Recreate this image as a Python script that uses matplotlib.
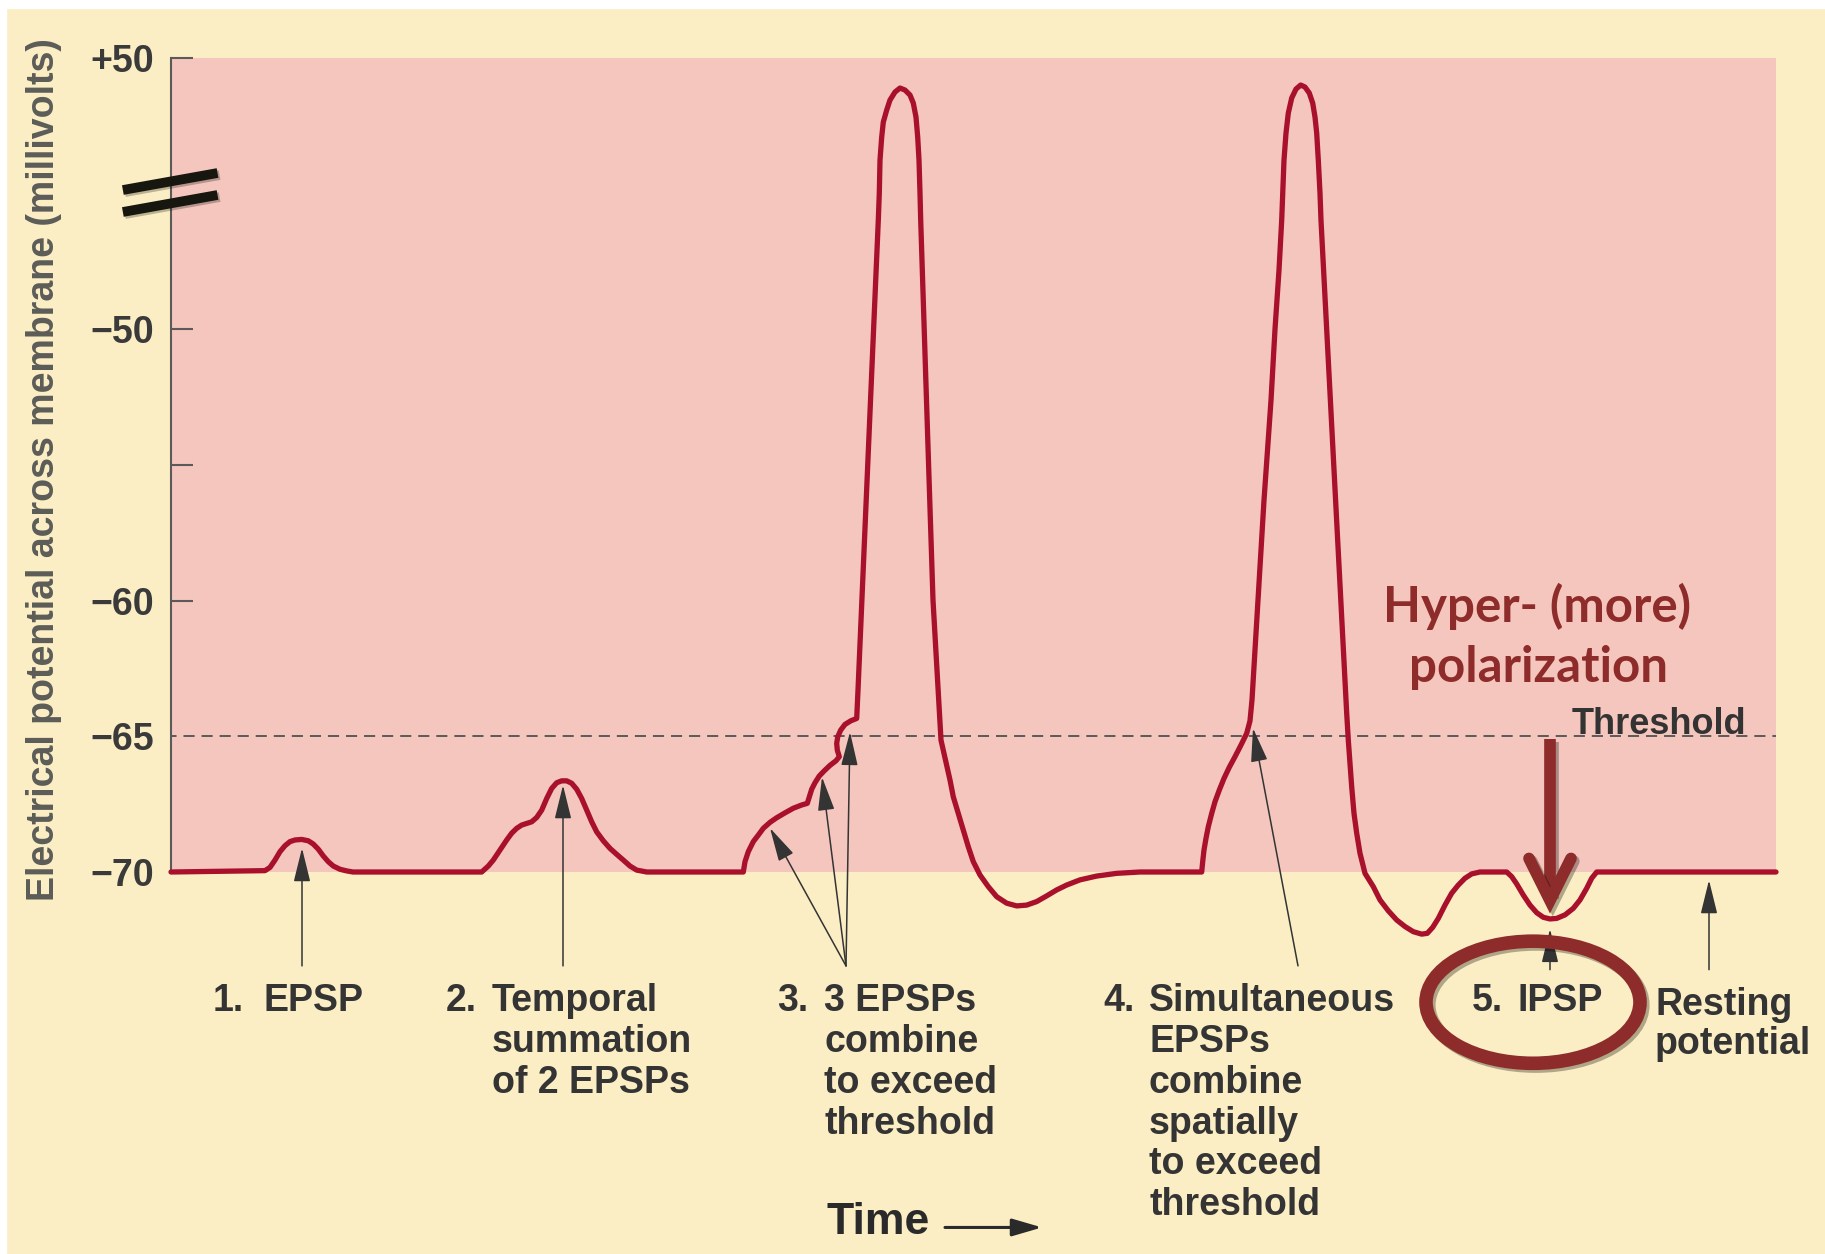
#!/usr/bin/env python3
# Summation of postsynaptic potentials (EPSP / IPSP) - textbook style diagram.
# Values; y axis is broken above -50 mV.

import numpy as np
import matplotlib
matplotlib.use("Agg")
import matplotlib.pyplot as plt
import matplotlib.patheffects as pe
from matplotlib.patches import Ellipse, Rectangle

plt.rcParams['font.family'] = ['Liberation Sans', 'DejaVu Sans']
plt.rcParams['font.weight'] = 'bold'
plt.rcParams['lines.scale_dashes'] = False

# membrane trace, (time in arbitrary units, potential in mV), one list per event
epsp_single = [(0, -70), (9.4, -69.95), (9.9, -69.83), (10.4, -69.56), (10.9, -69.25),
               (11.4, -69.03), (11.9, -68.88), (12.4, -68.82), (13.07, -68.80),
               (13.73, -68.85), (14.23, -68.97), (14.73, -69.16), (15.23, -69.41),
               (15.73, -69.62), (16.23, -69.78), (16.9, -69.90), (17.57, -69.96),
               (18.2, -70)]
epsp_temporal = [(31.07, -70), (31.73, -69.78), (32.23, -69.56), (32.9, -69.19),
                 (33.57, -68.82), (34.07, -68.57), (34.57, -68.39), (35.07, -68.27),
                 (35.57, -68.21), (36.07, -68.15), (36.57, -67.99), (37.07, -67.72),
                 (37.57, -67.29), (38.07, -66.92), (38.57, -66.71), (39.07, -66.64),
                 (39.57, -66.64), (40.07, -66.73), (40.57, -66.95), (41.07, -67.29),
                 (41.57, -67.72), (42.07, -68.15), (42.57, -68.52), (43.23, -68.85),
                 (43.9, -69.13), (44.57, -69.35), (45.23, -69.56), (45.9, -69.78),
                 (46.57, -69.93), (47.57, -70)]
three_epsps = [(57.23, -70), (57.4, -69.62), (57.73, -69.25), (58.23, -68.88),
               (58.73, -68.64), (59.23, -68.39), (59.9, -68.17), (60.57, -68.0),
               (61.4, -67.82), (62.23, -67.65), (63.07, -67.53), (63.63, -67.47),
               (63.83, -67.23), (64.07, -66.95), (64.4, -66.71), (64.83, -66.46),
               (65.33, -66.27), (65.9, -66.07), (66.5, -65.90), (66.83, -65.75),
               (66.63, -65.51), (66.57, -65.26), (66.67, -65.02), (66.97, -64.77),
               (67.4, -64.56), (67.97, -64.43), (68.57, -64.34)]
spike_one = [(68.7, -63.30), (69.09, -59.98), (69.52, -56.30), (69.95, -52.62),
             (70.26, -50.0), (70.51, -28.2), (70.73, -9.8), (70.83, 0.18),
             (70.9, 12.36), (71.07, 20.85), (71.23, 26.38), (71.57, 30.81),
             (71.9, 34.50), (72.4, 37.45), (72.9, 38.93), (73.4, 38.19),
             (73.9, 36.35), (74.23, 33.39), (74.5, 28.23), (74.67, 20.85),
             (74.8, 12.36), (74.9, 0.18), (74.97, -9.8), (75.13, -28.2),
             (75.32, -50.0), (75.55, -52.62), (75.88, -56.30), (76.2, -59.98),
             (77.0, -65.14), (77.9, -66.61), (78.23, -67.23), (78.73, -67.84),
             (79.23, -68.45), (79.73, -69.07), (80.23, -69.62), (80.9, -70.11),
             (81.73, -70.54), (82.57, -70.91), (83.57, -71.15), (84.57, -71.25),
             (85.57, -71.22), (86.57, -71.09), (87.57, -70.88), (88.57, -70.66),
             (89.57, -70.48), (90.9, -70.29), (92.57, -70.15), (94.57, -70.05),
             (96.9, -70), (103.07, -70)]
spike_spatial = [(103.17, -69.62), (103.3, -69.19), (103.5, -68.76), (103.73, -68.33),
                 (104.07, -67.84), (104.4, -67.41), (104.83, -66.98), (105.3, -66.55),
                 (105.83, -66.14), (106.4, -65.75), (107.0, -65.32), (107.57, -64.89),
                 (107.9, -64.43), (108.1, -63.66), (108.7, -59.98), (109.3, -56.30),
                 (110.0, -52.62), (110.4, -50.0), (110.8, -28.2), (111.07, -9.8),
                 (111.17, 0.18), (111.3, 12.36), (111.5, 22.32), (111.73, 29.70),
                 (112.07, 35.24), (112.5, 38.56), (112.97, 40.04), (113.4, 39.30),
                 (113.83, 37.08), (114.17, 33.39), (114.4, 28.23), (114.57, 22.32),
                 (114.73, 12.36), (114.9, 0.18), (115.0, -9.8), (115.26, -28.2),
                 (115.57, -50.0), (115.94, -52.62), (116.46, -56.30), (116.98, -59.98),
                 (117.4, -62.93), (117.57, -64.15), (117.73, -65.14), (117.9, -66.0),
                 (118.07, -66.86), (118.3, -67.84), (118.57, -68.57), (118.9, -69.31),
                 (119.4, -70.05), (120.23, -70.54), (120.9, -71.03), (121.73, -71.43),
                 (122.57, -71.77), (123.4, -72.01), (124.23, -72.20), (125.07, -72.29),
                 (125.63, -72.26), (126.17, -72.04), (126.73, -71.71), (127.4, -71.22),
                 (128.07, -70.78), (128.73, -70.48), (129.4, -70.23), (130.07, -70.07),
                 (130.9, -70.0)]
ipsp = [(133.57, -70), (134.07, -70.17), (134.57, -70.44), (135.23, -70.85),
        (135.9, -71.22), (136.57, -71.50), (137.23, -71.67), (137.9, -71.73),
        (138.57, -71.71), (139.4, -71.58), (140.23, -71.34), (140.9, -71.03),
        (141.57, -70.60), (142.07, -70.23), (142.57, -70.0), (160.5, -70)]

threshold_mv = -65
ytick_mv = [50, -50, -55, -60, -65, -70]
ytick_labels = ['+50', '\u221250', '', '\u221260', '\u221265', '\u221270']

# pointer arrows below the trace: tail (t, mV) -> tip (t, mV)
arrow_tails = [(13.1, -73.46), (39.2, -73.46), (67.5, -73.46), (67.5, -73.46),
               (67.5, -73.46), (112.7, -73.46), (137.9, -73.6), (153.8, -73.6)]
arrow_tips = [(13.1, -69.12), (39.2, -66.80), (59.9, -68.38), (65.1, -66.50),
              (67.9, -64.84), (108.2, -64.70), (137.9, -72.1), (153.8, -70.3)]

# captions: number, start of number, start of text, lines
captions = [('1.', 4.2, 9.2, ['EPSP']),
            ('2.', 27.5, 32.1, ['Temporal', 'summation', 'of 2 EPSPs']),
            ('3.', 60.6, 65.3, ['3 EPSPs', 'combine', 'to exceed', 'threshold']),
            ('4.', 93.2, 97.8, ['Simultaneous', 'EPSPs', 'combine', 'spatially',
                                'to exceed', 'threshold']),
            ('5.', 130.1, 134.6, ['IPSP'])]
resting_lines = ['Resting', 'potential']

cream = '#FBEEC4'
pink = '#F4C6BD'
trace_col = '#A8102B'
ink = '#343434'
red_note = '#8E2C2C'


def fwd(v):
    v = np.asarray(v, dtype=float)
    return np.where(v <= -50, v, -50 + (v + 50) * 0.1)


def inv(y):
    y = np.asarray(y, dtype=float)
    return np.where(y <= -50, y, -50 + (y + 50) * 10)


W, H = 1825, 1254
fig = plt.figure(figsize=(W / 100, H / 100), dpi=100, facecolor=cream)
ax = fig.add_axes([171 / W, 1 - 872 / H, (1776 - 171) / W, (872 - 58) / H])
ax.set_facecolor(pink)
ax.set_yscale('function', functions=(fwd, inv))
ax.set_xlim(0, 160.5)
ax.set_ylim(-70, 50)

for s in ['top', 'right', 'bottom']:
    ax.spines[s].set_visible(False)
ax.spines['left'].set_color('#5a5a5a')
ax.spines['left'].set_linewidth(1.5)
ax.set_xticks([])
ax.set_yticks(ytick_mv)
ax.set_yticklabels(ytick_labels)
ax.yaxis.set_minor_locator(matplotlib.ticker.NullLocator())
ax.tick_params(axis='y', direction='in', length=16, width=1.5, color='#5a5a5a',
               pad=12, labelsize=27, labelcolor='#3a3a3a')
ax.yaxis.get_major_ticks()[4].tick1line.set_visible(False)

ax.set_ylabel('Electrical potential across membrane (millivolts)', fontsize=27,
              fontweight='bold', color='#5c5c58', va='center')
ax.yaxis.set_label_coords(-0.079, 0.495)

# threshold
ax.plot([0, 160.5], [threshold_mv, threshold_mv], color='#5a5a5a', lw=1.4,
        linestyle=(4, (8, 5)), zorder=2)
ax.text(140.1, -64.9, 'Threshold', fontsize=26, color='#333333',
        ha='left', va='baseline')

# membrane potential trace
segments = [epsp_single, epsp_temporal, three_epsps, spike_one, spike_spatial, ipsp]
trace = [p for seg in segments for p in seg]
ax.plot([p[0] for p in trace], [p[1] for p in trace], color=trace_col, lw=3.8,
        clip_on=False, solid_joinstyle='round', solid_capstyle='round', zorder=3)

# pointer arrows
for tail, tip in zip(arrow_tails, arrow_tips):
    ax.annotate('', xy=tip, xytext=tail, annotation_clip=False,
                arrowprops=dict(arrowstyle='-|>,head_length=1.5,head_width=0.37',
                                mutation_scale=14, color=ink, lw=1.1,
                                shrinkA=0, shrinkB=0), zorder=4)

# captions
step = 1.5
for num, x_num, x_txt, lines in captions:
    ax.text(x_num, -74.77, num, fontsize=27, color=ink, ha='left', va='center')
    for i, line in enumerate(lines):
        ax.text(x_txt, -74.77 - i * step, line, fontsize=27, color=ink,
                ha='left', va='center')
for i, line in enumerate(resting_lines):
    ax.text(148.4, -74.9 - i * 1.45, line, fontsize=27, color=ink,
            ha='left', va='center')

# time axis note
ax.text(65.5, -82.9, 'Time', fontsize=32, color='#2a2a2a', ha='left', va='center')
ax.annotate('', xy=(87.1, -83.1), xytext=(77.4, -83.1), annotation_clip=False,
            arrowprops=dict(arrowstyle='-|>,head_length=1.3,head_width=0.38',
                            mutation_scale=14, color='#2a2a2a', lw=2.2,
                            shrinkA=0, shrinkB=0))

# broken-axis marks
for y0, y1 in [(0.8378, 0.8587), (0.8108, 0.8317)]:
    ax.plot([-0.030, 0.029], [y0, y1], transform=ax.transAxes, color='#17170f',
            lw=7, solid_capstyle='butt', clip_on=False, zorder=6,
            path_effects=[pe.SimpleLineShadow(offset=(1.5, -1.5), alpha=0.25),
                          pe.Normal()])

# overlay: hyperpolarization note
shadow = [pe.SimpleLineShadow(offset=(2, -2), alpha=0.3), pe.Normal()]
ax.text(136.6, -60.79, 'Hyper- (more)', family=['Lato', 'DejaVu Sans'],
        fontsize=35.5, color=red_note, ha='center', va='baseline')
ax.text(136.7, -63.0, 'polarization', family=['Lato', 'DejaVu Sans'],
        fontsize=35.5, color=red_note, ha='center', va='baseline')
ax.plot([137.9, 137.9], [-65.1, -70.9], color=red_note, lw=8.4,
        solid_capstyle='butt', clip_on=False, zorder=6, path_effects=shadow)
ax.plot([135.8, 137.9, 140.0], [-69.5, -71.05, -69.5], color=red_note, lw=8.4,
        solid_capstyle='round', solid_joinstyle='miter', clip_on=False,
        zorder=6, path_effects=shadow)
ring = Ellipse((136.2, -74.8), 21.4, 4.5, fill=False, edgecolor=red_note,
               lw=9.8, clip_on=False, zorder=5, path_effects=shadow)
ax.add_patch(ring)

# white scan border
fig.add_artist(Rectangle((0, 1 - 8 / H), 1, 8 / H, transform=fig.transFigure,
                         color='white', zorder=10))
fig.add_artist(Rectangle((0, 0), 6 / W, 1, transform=fig.transFigure,
                         color='white', zorder=10))

fig.savefig('out.png', dpi=100, facecolor=cream)
